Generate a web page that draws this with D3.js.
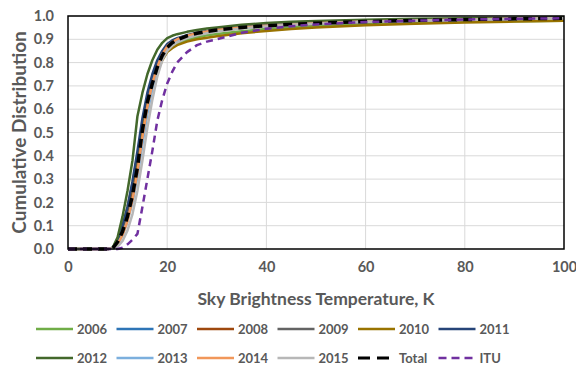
<!DOCTYPE html>
<html><head><meta charset="utf-8">
<script src="https://cdn.jsdelivr.net/npm/d3@7"></script>
<style>body{margin:0;background:#fff}svg{display:block}text{font-family:Lato,"Open Sans",sans-serif;font-weight:bold;fill:#595959}</style>
</head><body><svg id="c" width="576" height="367"></svg>
<script>
const temps = [0,5,8,9,10,11,12,13,14,15,16,17,18,19,20,21,22,24,26,28,30,35,40,45,50,60,70,80,90,100];
const names = ["2006","2007","2008","2009","2010","2011","2012","2013","2014","2015","Total","ITU"];
const colors = ["#70AD47","#2E75B6","#9E480E","#636363","#997300","#264478","#43682B","#7CAFDD","#F1975A","#B7B7B7","#000000","#7030A0"];
const v2006 = [0,0,0,0.003,0.03,0.08,0.15,0.25,0.37,0.5,0.61,0.7,0.77,0.82,0.852,0.87,0.882,0.898,0.909,0.917,0.923,0.935,0.944,0.951,0.957,0.965,0.971,0.975,0.978,0.98];
const v2007 = [0,0,0,0.003,0.035,0.085,0.16,0.26,0.38,0.53,0.65,0.73,0.79,0.84,0.872,0.89,0.9,0.915,0.925,0.933,0.939,0.95,0.957,0.963,0.968,0.975,0.98,0.984,0.987,0.99];
const v2008 = [0,0,0,0.003,0.03,0.08,0.15,0.24,0.36,0.5,0.62,0.71,0.78,0.83,0.865,0.882,0.895,0.912,0.923,0.931,0.937,0.948,0.956,0.962,0.967,0.974,0.979,0.983,0.986,0.989];
const v2009 = [0,0,0,0.002,0.025,0.07,0.13,0.22,0.33,0.47,0.6,0.7,0.77,0.825,0.86,0.88,0.893,0.91,0.921,0.93,0.936,0.948,0.956,0.962,0.967,0.974,0.979,0.983,0.986,0.989];
const v2010 = [0,0,0,0.004,0.04,0.1,0.18,0.28,0.4,0.52,0.62,0.7,0.76,0.81,0.845,0.862,0.875,0.89,0.9,0.907,0.913,0.926,0.936,0.944,0.951,0.96,0.967,0.972,0.976,0.98];
const v2011 = [0,0,0,0.004,0.04,0.1,0.18,0.29,0.42,0.56,0.67,0.75,0.81,0.85,0.88,0.895,0.905,0.918,0.928,0.936,0.942,0.953,0.96,0.966,0.97,0.977,0.982,0.986,0.989,0.991];
const v2012 = [0,0,0,0.005,0.05,0.14,0.25,0.38,0.57,0.67,0.75,0.81,0.855,0.885,0.905,0.915,0.922,0.932,0.94,0.946,0.951,0.962,0.97,0.975,0.979,0.984,0.988,0.99,0.992,0.994];
const v2013 = [0,0,0,0.002,0.02,0.06,0.12,0.2,0.31,0.45,0.58,0.69,0.77,0.825,0.86,0.88,0.893,0.91,0.921,0.93,0.937,0.949,0.957,0.963,0.968,0.975,0.98,0.984,0.987,0.99];
const v2014 = [0,0,0,0.002,0.02,0.06,0.12,0.21,0.33,0.48,0.61,0.71,0.78,0.835,0.87,0.888,0.9,0.915,0.926,0.934,0.94,0.951,0.958,0.964,0.969,0.976,0.981,0.985,0.988,0.99];
const v2015 = [0,0,0,0.001,0.01,0.035,0.08,0.15,0.25,0.38,0.52,0.64,0.74,0.81,0.85,0.872,0.887,0.905,0.917,0.926,0.933,0.946,0.955,0.962,0.967,0.975,0.98,0.984,0.987,0.99];
const vTotal = [0,0,0,0.003,0.03,0.075,0.14,0.23,0.35,0.51,0.63,0.71,0.78,0.83,0.865,0.885,0.898,0.915,0.926,0.934,0.94,0.951,0.958,0.964,0.969,0.976,0.981,0.985,0.988,0.99];
const vITU = [0,0,0,0,0,0.005,0.02,0.04,0.065,0.18,0.3,0.42,0.55,0.64,0.71,0.76,0.8,0.845,0.875,0.89,0.9,0.928,0.945,0.956,0.964,0.974,0.98,0.985,0.988,0.99];
const xTicks = [0,20,40,60,80,100];
const yTicks = [0,0.1,0.2,0.3,0.4,0.5,0.6,0.7,0.8,0.9,1.0];
const seriesVals = [v2006,v2007,v2008,v2009,v2010,v2011,v2012,v2013,v2014,v2015,vTotal,vITU];

const svg = d3.select("#c");
const L=68,R=564,T=16,B=249;
const x = d3.scaleLinear().domain([0,100]).range([L,R]);
const y = d3.scaleLinear().domain([0,1]).range([B,T]);

// grid
svg.append("g").selectAll("line").data(yTicks.slice(1)).join("line")
  .attr("x1",L).attr("x2",R).attr("y1",d=>y(d)).attr("y2",d=>y(d))
  .attr("stroke","#D9D9D9").attr("stroke-width",1);
svg.append("g").selectAll("line").data(xTicks.slice(1,-1)).join("line")
  .attr("y1",T).attr("y2",B).attr("x1",d=>x(d)).attr("x2",d=>x(d))
  .attr("stroke","#D9D9D9").attr("stroke-width",1);

// axes
const xa = svg.append("g").attr("transform",`translate(0,${B})`)
  .call(d3.axisBottom(x).tickValues(xTicks).tickSize(0).tickPadding(13).tickFormat(d3.format("d")));
xa.select(".domain").remove();
xa.selectAll("text").attr("font-size",14.5).attr("fill","#595959");
const ya = svg.append("g").attr("transform",`translate(${L},0)`)
  .call(d3.axisLeft(y).tickValues(yTicks).tickSize(0).tickPadding(14).tickFormat(d3.format(".1f")));
ya.select(".domain").remove();
ya.selectAll("text").attr("font-size",14.5).attr("fill","#595959");

// lines
const line = d3.line().x((d,i)=>x(temps[i])).y(d=>y(d));
const styles = names.map((n,i)=>{
  if(n==="Total") return {w:3.5,dash:"9,6"};
  if(n==="ITU") return {w:2.5,dash:"7,5"};
  return {w:2.5,dash:null};
});
svg.append("g").selectAll("path").data(seriesVals).join("path")
  .attr("d",d=>line(d)).attr("fill","none")
  .attr("stroke",(d,i)=>colors[i]).attr("stroke-width",(d,i)=>styles[i].w)
  .attr("stroke-dasharray",(d,i)=>styles[i].dash).attr("stroke-linejoin","round");

// border
svg.append("rect").attr("x",L).attr("y",T).attr("width",R-L).attr("height",B-T)
  .attr("fill","none").attr("stroke","#000").attr("stroke-width",1.5);

// titles
svg.append("text").attr("x",(L+R)/2).attr("y",305).attr("text-anchor","middle")
  .attr("font-size",17.5).text("Sky Brightness Temperature, K");
svg.append("text").attr("transform",`translate(26,${(T+B)/2}) rotate(-90)`).attr("text-anchor","middle")
  .attr("font-size",19).text("Cumulative Distribution");

// legend
const lg = svg.append("g");
names.forEach((n,i)=>{
  const col=i%6,row=Math.floor(i/6);
  const lx=36+col*80.5, ly=row?358:329;
  const g=lg.append("g");
  g.append("line").attr("x1",lx).attr("x2",lx+37).attr("y1",ly).attr("y2",ly)
   .attr("stroke",colors[i]).attr("stroke-width",n==="Total"?3:2.5).attr("stroke-dasharray",styles[i].dash?(n==="Total"?"12,7":"8,5"):null);
  g.append("text").attr("x",lx+41).attr("y",ly+4.5).attr("font-size",13).text(n);
});
</script></body></html>
